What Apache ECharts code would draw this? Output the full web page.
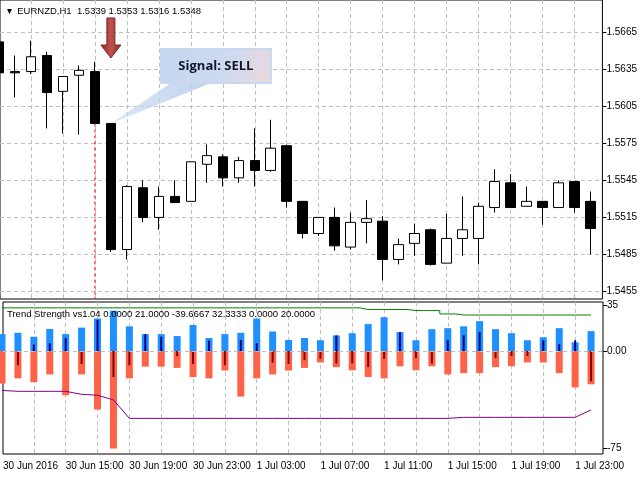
<!DOCTYPE html>
<html><head><meta charset="utf-8">
<script src="https://cdn.jsdelivr.net/npm/echarts@6/dist/echarts.min.js"></script>
<style>html,body{margin:0;padding:0;background:#fff}#c{width:640px;height:480px}</style>
</head><body><div id="c"></div>
<script>
// ---- data ----
const timeLabels = ['30 Jun 2016','','','','30 Jun 15:00','','','','30 Jun 19:00','','','','30 Jun 23:00','','','','1 Jul 03:00','','','','1 Jul 07:00','','','','1 Jul 11:00','','','','1 Jul 15:00','','','','1 Jul 19:00','','','','1 Jul 23:00',''];
// [open, close, low, high]
const candles = [
[1.5657,1.5632,1.5632,1.5657],[1.5633,1.5632,1.5612,1.5646],[1.5633,1.5645,1.5631,1.5658],
[1.5646,1.5616,1.5587,1.5649],[1.5617,1.5629,1.5583,1.5629],[1.5630,1.5634,1.5582,1.5638],
[1.5633,1.5591,1.5591,1.5641],[1.5591,1.5489,1.5487,1.5591],[1.5489,1.5540,1.5481,1.5541],
[1.5539,1.5515,1.5511,1.5545],[1.5515,1.5532,1.5505,1.5540],[1.5532,1.5527,1.5527,1.5545],
[1.5528,1.5560,1.5528,1.5560],[1.5558,1.5565,1.5543,1.5574],[1.5564,1.5547,1.5540,1.5566],
[1.5547,1.5561,1.5543,1.5564],[1.5561,1.5553,1.5540,1.5587],[1.5553,1.5571,1.5552,1.5594],
[1.5573,1.5528,1.5523,1.5574],[1.5528,1.5502,1.5498,1.5528],[1.5502,1.5515,1.5500,1.5515],
[1.5515,1.5492,1.5488,1.5523],[1.5491,1.5511,1.5489,1.5519],[1.5511,1.5514,1.5494,1.5529],
[1.5512,1.5481,1.5464,1.5516],[1.5481,1.5493,1.5477,1.5498],[1.5494,1.5502,1.5484,1.5510],
[1.5505,1.5477,1.5476,1.5506],[1.5478,1.5498,1.5478,1.5518],[1.5498,1.5505,1.5484,1.5532],
[1.5498,1.5524,1.5477,1.5527],[1.5523,1.5544,1.5519,1.5554],[1.5543,1.5523,1.5523,1.5550],
[1.5524,1.5528,1.5524,1.5540],[1.5528,1.5523,1.5509,1.5528],[1.5523,1.5543,1.5523,1.5545],
[1.5544,1.5523,1.5519,1.5544],[1.5528,1.5506,1.5485,1.5536]
];
const bullPower = [13,14,11,17,13,18,25,31,19,13,13,11.5,20,10,13,14,25,15,8.5,10,8.3,12,13.7,20.7,26,14.5,8.3,16.8,17.6,19,23,16.8,13.7,8.3,10.6,17.6,6.7,15.3];
const bullCore  = [0,0,5,6,10,0,24,0,0,13,11,0,0,8,0,8.5,6,0,0,0,0,12,0,0,0,14.5,0,0,8.3,12,14.5,0,0,0,8.3,5.2,8.3,0];
const bearPower = [-25,-21,-24,-18,-34,-18,-45,-75,-21,-12,-12,-13,-20,-21,-15,-35,-21,-18,-15,-13,-8.8,-12.4,-14.8,-20,-21,-11.7,-14.8,-11.7,-18,-17,-17,-12.4,-11.7,-8.8,-8.8,-17,-28,-25.6];
const bearCore  = [0,-11,0,0,0,-10,0,-20,-11,0,0,-4,-10,0,-11,0,0,-9,-10,-7,-6,-9.6,-9.6,-12.4,-6,0,-5.4,-9.6,0,0,0,-5.4,-3.9,-3.9,0,0,0,-23.3];
const upperLevel = [33.2,33.2,33.2,33.2,33.2,33.2,33.2,33.2,33.2,33.2,33.2,33.2,33.2,33.2,33.2,33.2,33.2,33.2,33.2,33.2,33.2,33.2,33.2,31.9,31.9,31.9,31.1,31.1,28.5,27.7,27.7,27.7,27.7,27.7,27.7,27.7,27.7,27.7];
const lowerLevel = [-30.3,-31,-31,-31,-31,-33.3,-34,-37.6,-51.8,-51.8,-51.8,-51.8,-51.8,-51.8,-51.8,-51.8,-51.8,-51.8,-51.8,-51.8,-51.8,-51.8,-51.8,-51.8,-51.8,-51.8,-51.8,-51.8,-51.8,-51,-51,-51,-51,-51,-51,-51,-51,-45.3];
const priceTicks = [1.5455,1.5485,1.5515,1.5545,1.5575,1.5605,1.5635,1.5665];
const indTicks = [35,0,-75];
const headerText = 'EURNZD,H1  1.5339 1.5353 1.5316 1.5348';
const indTitle = 'Trend Strength vs1.04 0.0000 21.0000 -39.6667 32.3333 0.0000 20.0000';
const signalText = 'Signal: SELL';
const signalIndex = 7;

// ---- chart ----
const xMin = 0.0625, xMax = 37.75, yMin = 1.5449, yMax = 1.56909;
const idx = candles.map((_, i) => i);
const gridLines = idx.filter(i => i > 0 && i % 2 === 0);
const labelIdx = [xMin].concat(idx.filter(i => i > 0 && i % 4 === 0));
const font = 'Liberation Sans';
const xCommon = {type:'value', min:xMin, max:xMax};
const split = {show:true, lineStyle:{color:'#c0c0c0', type:[4,3], width:1}};
const chart = echarts.init(document.getElementById('c'), null, {renderer:'canvas'});
const opt = {
  animation:false,
  textStyle:{fontFamily:font},
  grid:[
    {left:0, top:0, width:603, height:299, show:true, borderColor:'#000', borderWidth:1},
    {left:0, top:302, width:603, height:152, show:true, borderColor:'#000', borderWidth:1}
  ],
  xAxis:[
    Object.assign({gridIndex:0, axisLine:{show:false}, axisLabel:{show:false}, axisTick:{show:false, customValues:gridLines}, splitLine:split}, xCommon),
    Object.assign({gridIndex:1, position:'bottom', axisLine:{show:false},
      axisTick:{show:false, customValues:gridLines}, splitLine:split,
      axisLabel:{show:true, customValues:labelIdx, formatter:v => timeLabels[Math.round(v)], align:'left', fontSize:10, color:'#000', margin:7, fontFamily:font, showMinLabel:true}}, xCommon),
    Object.assign({gridIndex:1, show:false}, xCommon)
  ],
  yAxis:[
    {type:'value', gridIndex:0, position:'right', min:yMin, max:yMax, splitLine:Object.assign({}, split),
     axisLine:{show:false}, axisTick:{show:true, customValues:priceTicks, length:4, lineStyle:{color:'#000'}},
     axisLabel:{customValues:priceTicks, formatter:v => v.toFixed(4), fontSize:10, color:'#000', margin:4, fontFamily:font}},
    {type:'value', gridIndex:1, position:'right', min:-79.2, max:37.7, splitLine:{show:false},
     axisLine:{show:false}, axisTick:{show:true, customValues:indTicks, length:4, lineStyle:{color:'#000'}},
     axisLabel:{customValues:indTicks, formatter:v => v === 0 ? '0.00' : String(v), fontSize:10, color:'#000', margin:4, fontFamily:font}}
  ],
  title:[
    {text:'▾  ' + headerText, left:2, top:1, textStyle:{fontSize:9.5, fontWeight:'normal', color:'#000', fontFamily:font}},
    {text:indTitle, left:2, top:304, textStyle:{fontSize:9.5, fontWeight:'normal', color:'#000', fontFamily:font}}
  ],
  series:[
    {type:'line', xAxisIndex:0, yAxisIndex:0, symbol:'none', z:1, silent:true,
     lineStyle:{color:'#ff0000', type:[3,3], width:1},
     data:[[signalIndex-1, candles[signalIndex-1][1]],[signalIndex-1, yMin]]},
    {type:'candlestick', xAxisIndex:0, yAxisIndex:0, barWidth:10, z:2,
     data:candles.map((c,i)=>[i, c[0], c[1], c[2], c[3]]),
     encode:{x:0, y:[1,2,3,4]},
     itemStyle:{color:'#fff', color0:'#000', borderColor:'#000', borderColor0:'#000', borderWidth:1}},
    {type:'bar', xAxisIndex:1, yAxisIndex:1, barWidth:7, barGap:'-100%', itemStyle:{color:'#1e90ff'},
     data:bullPower.map((v,i)=>[i,v]),
     markLine:{silent:true, symbol:'none', label:{show:false}, lineStyle:{color:'#c0c0c0', type:[4,3], width:1}, data:[{yAxis:0}]}},
    {type:'bar', xAxisIndex:1, yAxisIndex:1, barWidth:7, barGap:'-100%', itemStyle:{color:'#ff6347'},
     data:bearPower.map((v,i)=>[i,v])},
    {type:'bar', xAxisIndex:2, yAxisIndex:1, barWidth:2, barGap:'-100%', itemStyle:{color:'#00008b'},
     data:bullCore.map((v,i)=>[i,v])},
    {type:'bar', xAxisIndex:2, yAxisIndex:1, barWidth:2, barGap:'-100%', itemStyle:{color:'#8b0000'},
     data:bearCore.map((v,i)=>[i,v])},
    {type:'line', xAxisIndex:1, yAxisIndex:1, step:'middle', symbol:'none', lineStyle:{color:'#008000', width:1},
     data:upperLevel.map((v,i)=>[i,v])},
    {type:'line', xAxisIndex:1, yAxisIndex:1, symbol:'none', lineStyle:{color:'#800080', width:1},
     data:lowerLevel.map((v,i)=>[i,v])}
  ]
};
chart.setOption(opt);
// annotations anchored on the signal candle
const anchor = chart.convertToPixel({xAxisIndex:0, yAxisIndex:0}, [signalIndex, candles[signalIndex][0]]);
const ax = anchor[0], ay = anchor[1];
chart.setOption({graphic:[
  {type:'polygon', z:100, shape:{points:[[ax-4,18],[ax+4,18],[ax+4,45],[ax+10,45],[ax,58],[ax-10,45],[ax-4,45]]},
   style:{fill:new echarts.graphic.LinearGradient(0,0,1,0,[{offset:0,color:'#8e2f2a'},{offset:0.5,color:'#c0504d'},{offset:1,color:'#8e2f2a'}]), stroke:'#7a2622', lineWidth:1}},
  {type:'polygon', z:99, shape:{points:[[ax+60,83],[ax+100,83],[ax,ay]]},
   style:{fill:new echarts.graphic.LinearGradient(1,0,0,1,[{offset:0,color:'rgba(184,205,236,0.9)'},{offset:1,color:'rgba(200,215,240,0.6)'}])}},
  {type:'rect', z:100, shape:{x:ax+50, y:49, width:110, height:34},
   style:{fill:new echarts.graphic.LinearGradient(0,0,1,1,[{offset:0,color:'#c4d6f0'},{offset:0.6,color:'#cfdaf0'},{offset:1,color:'#ecd8dc'}]), stroke:'#c8d8ef', lineWidth:2}},
  {type:'text', z:101, x:ax+105, y:66, style:{text:signalText, fill:'#101828', font:'bold 13px "Open Sans"', align:'center', verticalAlign:'middle'}}
]});
</script></body></html>
